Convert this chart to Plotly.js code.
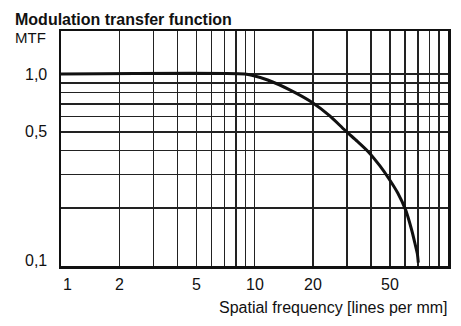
<!DOCTYPE html>
<html>
<head>
<meta charset="utf-8">
<script src="https://cdn.plot.ly/plotly-3.0.1.min.js"></script>
<style>html,body{margin:0;padding:0;background:#fff}#chart{width:461px;height:326px}</style>
</head>
<body>
<div id="chart"></div>
<script>
// Data (log-log MTF curve)
var freq = [1, 8.9, 9.8, 11.7, 15.3, 19.8, 24.5, 29.4, 34, 38.7, 44.5, 49.6, 55, 60.4, 64.9, 67.5, 69.4, 70.2];
var mtf  = [1.0, 1.0, 0.982, 0.931, 0.825, 0.713, 0.605, 0.508, 0.446, 0.394, 0.332, 0.284, 0.24, 0.196, 0.154, 0.131, 0.116, 0.104];

var xGrid = [1,2,3,4,5,6,7,8,9,10,20,30,40,50,60,70,80,90,100];
var xLabelVals = [1, 2, 5, 10, 20, 50];
var xLabelText = ["1", "2", "5", "10", "20", "50"];
var yGrid = [0.1,0.2,0.3,0.4,0.5,0.6,0.7,0.8,0.9,1.0];
var yLabelVals = [0.1, 0.5, 1.0];
var yLabelText = ["0,1", "0,5", "1,0"];

var chartTitle = "Modulation transfer function";
var yTitle = "MTF";
var xTitle = "Spatial frequency [lines per mm]";

var font = "'Liberation Sans', Arial, sans-serif";

var trace = {
  x: freq, y: mtf, type: "scatter", mode: "lines",
  line: {color: "#111", width: 3, shape: "spline", smoothing: 0.8},
  hoverinfo: "skip"
};

var annotations = [
  {text: "<b>" + chartTitle + "</b>", xref: "paper", yref: "paper",
   x: -0.124, y: 1.047, xanchor: "left", yanchor: "middle", showarrow: false,
   font: {family: font, size: 16, color: "#111"}},
  {text: yTitle, xref: "paper", yref: "paper",
   x: -0.124, y: 0.974, xanchor: "left", yanchor: "middle", showarrow: false,
   font: {family: font, size: 15, color: "#111"}},
  {text: xTitle, xref: "paper", yref: "paper",
   x: 1.005, y: -0.175, xanchor: "right", yanchor: "middle", showarrow: false,
   font: {family: font, size: 16, color: "#111"}}
];
xLabelVals.forEach(function (v, i) {
  annotations.push({text: xLabelText[i], xref: "x", yref: "paper",
    x: Math.log10(v), y: -0.077, xanchor: "center", yanchor: "middle",
    xshift: i === 0 ? 6 : 0, showarrow: false,
    font: {family: font, size: 16, color: "#111"}});
});
yLabelVals.forEach(function (v, i) {
  annotations.push({text: yLabelText[i], xref: "paper", yref: "y",
    x: -0.031, y: Math.log10(v), xanchor: "right", yanchor: "middle",
    yshift: i === 0 ? 6 : 0, showarrow: false,
    font: {family: font, size: 16, color: "#111"}});
});

var layout = {
  width: 461, height: 326,
  margin: {l: 61, r: 13, t: 31, b: 60, pad: 0},
  paper_bgcolor: "#fff", plot_bgcolor: "#fff",
  showlegend: false,
  font: {family: font, size: 16, color: "#111"},
  xaxis: {
    type: "log", range: [0, 2],
    tickmode: "array", tickvals: xGrid, showticklabels: false,
    showgrid: true, gridcolor: "#222", gridwidth: 1.5,
    showline: true, mirror: true, linecolor: "#111", linewidth: 2.5,
    ticks: "", zeroline: false, fixedrange: true
  },
  yaxis: {
    type: "log", range: [-1, 0.224],
    tickmode: "array", tickvals: yGrid, showticklabels: false,
    showgrid: true, gridcolor: "#222", gridwidth: 1.5,
    showline: true, mirror: true, linecolor: "#111", linewidth: 2.5,
    ticks: "", zeroline: false, fixedrange: true
  },
  annotations: annotations
};

Plotly.newPlot("chart", [trace], layout, {displayModeBar: false, staticPlot: true});
</script>
</body>
</html>
